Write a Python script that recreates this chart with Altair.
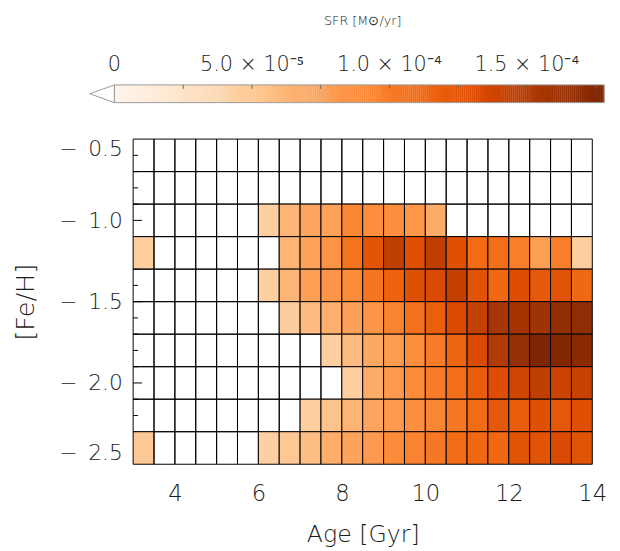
import altair as alt
import numpy as np
import pandas as pd

# ---------------- data ----------------
AGE_EDGES = [3.0, 3.5, 4.0, 4.5, 5.0, 5.5, 6.0, 6.5, 7.0, 7.5, 8.0, 8.5,
             9.0, 9.5, 10.0, 10.5, 11.0, 11.5, 12.0, 12.5, 13.0, 13.5, 14.0]
# [Fe/H] bin edges, from top row to bottom row
FEH_EDGES_TOP_DOWN = [-0.5, -0.7, -0.9, -1.1, -1.3, -1.5, -1.7, -1.9, -2.1, -2.3, -2.5]

# SFR in units of 1e-5 Msun/yr, one list per [Fe/H] row (top row first), 22 age bins each
SFR_FEH_m06 = [0] * 22
SFR_FEH_m08 = [0] * 22
SFR_FEH_m10 = [0, 0, 0, 0, 0, 0, 4.5, 6.2, 7.3, 7.5, 9.3, 8.8, 8.8, 8.3, 6.8,
               0, 0, 0, 0, 0, 0, 0]
SFR_FEH_m12 = [4.6, 0, 0, 0, 0, 0, 0, 6.3, 7.5, 8.5, 10.5, 12.5, 14.5, 12.8, 14.5,
               12.8, 11.0, 10.8, 9.8, 7.7, 9.8, 4.6]
SFR_FEH_m14 = [0, 0, 0, 0, 0, 0, 4.5, 6.2, 7.7, 8.4, 9.0, 10.3, 11.5, 12.8, 13.2,
               14.3, 12.6, 11.2, 13.0, 12.2, 12.6, 11.2]
SFR_FEH_m16 = [0, 0, 0, 0, 0, 0, 0, 4.7, 5.8, 6.6, 7.6, 8.4, 9.5, 10.6, 11.8,
               13.2, 14.3, 15.6, 15.7, 16.0, 16.8, 16.9]
SFR_FEH_m18 = [0, 0, 0, 0, 0, 0, 0, 0, 0, 4.6, 5.8, 7.0, 7.9, 8.8, 10.0,
               11.4, 13.2, 15.0, 16.6, 17.8, 17.6, 17.2]
SFR_FEH_m20 = [0, 0, 0, 0, 0, 0, 0, 0, 0, 0, 4.5, 6.8, 8.0, 9.0, 10.0,
               10.8, 12.0, 13.0, 13.8, 14.5, 14.0, 14.2]
SFR_FEH_m22 = [0, 0, 0, 0, 0, 0, 0, 0, 4.6, 5.3, 6.3, 7.3, 8.0, 8.7, 9.4,
               10.2, 11.0, 12.3, 12.0, 12.8, 12.3, 12.8]
SFR_FEH_m24 = [5.0, 0, 0, 0, 0, 0, 4.4, 5.0, 5.7, 6.7, 7.4, 8.0, 9.0, 9.5, 10.2,
               11.0, 11.2, 11.2, 12.6, 12.6, 13.2, 12.6]
SFR_ROWS = [SFR_FEH_m06, SFR_FEH_m08, SFR_FEH_m10, SFR_FEH_m12, SFR_FEH_m14,
            SFR_FEH_m16, SFR_FEH_m18, SFR_FEH_m20, SFR_FEH_m22, SFR_FEH_m24]
SFR_UNIT = 1e-5

VMAX = 1.78e-4                      # top of the colour bar
CMAP = ["#fff5eb", "#fee6ce", "#fdd0a2", "#fdae6b", "#fd8d3c",
        "#f16913", "#d94801", "#a63603", "#7f2704"]
CB_TICKS = [2.5e-5, 5.0e-5, 7.5e-5, 1.0e-4, 1.25e-4, 1.5e-4, 1.75e-4]
CB_LABEL_VALUES = [0.0, 5.0e-5, 1.0e-4, 1.5e-4]
CB_LABELS = ["0", "5.0 × 10⁻⁵", "1.0 × 10⁻⁴", "1.5 × 10⁻⁴"]

X_TICKS = [4, 6, 8, 10, 12, 14]
Y_TICKS = [-2.5, -2.0, -1.5, -1.0, -0.5]
Y_MAJOR_INNER = [-2.0, -1.5, -1.0]
Y_MINOR_INNER = [-2.4, -2.3, -2.2, -2.1, -1.9, -1.8, -1.7, -1.6, -1.4, -1.3,
                 -1.2, -1.1, -0.9, -0.8, -0.7, -0.6]

# ---------------- tables ----------------
rows = []
for r, vals in enumerate(SFR_ROWS):
    f_hi = FEH_EDGES_TOP_DOWN[r]
    f_lo = FEH_EDGES_TOP_DOWN[r + 1]
    for c, v in enumerate(vals):
        rows.append({"a0": AGE_EDGES[c], "a1": AGE_EDGES[c + 1],
                     "f0": f_lo, "f1": f_hi, "sfr": v * SFR_UNIT})
cells_df = pd.DataFrame(rows)

# ---------------- layout constants ----------------
W, H = 466, 330
CB_W_PX = 497          # colour-bar length in pixels
CB_SHIFT_PX = 19       # colour bar starts this far left of the plot
CB_H = 18
ARROW_PX = 25
TEXT = "#1c1c1c"
FONT = "DejaVu Sans"
WEIGHT = 200

k = VMAX / CB_W_PX
cb_domain = [CB_SHIFT_PX * k, (CB_SHIFT_PX + W) * k]

color_scale = alt.Scale(domain=list(np.linspace(0, VMAX, len(CMAP))),
                        range=CMAP, interpolate="rgb")

# ---------------- colour bar ----------------
edges = np.linspace(0, VMAX, 241)
grad_df = pd.DataFrame({"g0": edges[:-1], "g1": edges[1:] + VMAX / 2000,
                        "gm": (edges[:-1] + edges[1:]) / 2})
cbx = alt.Scale(domain=cb_domain, nice=False, zero=False)
cby = alt.Scale(domain=[0, 1], nice=False, zero=False)

grad = alt.Chart(grad_df).mark_rect(strokeWidth=0).encode(
    x=alt.X("g0:Q", scale=cbx, axis=None),
    x2="g1:Q",
    y=alt.Y("y0:Q", scale=cby, axis=None), y2="y1:Q",
    color=alt.Color("gm:Q", scale=color_scale, legend=None),
).transform_calculate(y0="0", y1="1")

outline = alt.Chart(pd.DataFrame({"lo": [0.0], "hi": [VMAX]})).mark_rect(
    fill="transparent", stroke="#9a9a9a", strokeWidth=1
).encode(
    x=alt.X("lo:Q", scale=cbx, axis=None), x2="hi:Q",
    y=alt.Y("y0:Q", scale=cby, axis=None), y2="y1:Q",
).transform_calculate(y0="0", y1="1")

arrow_df = pd.DataFrame({"x": [-ARROW_PX * k, 0.0, 0.0, -ARROW_PX * k],
                         "y": [0.5, 1.0, 0.0, 0.5], "i": [0, 1, 2, 3]})
arrow = alt.Chart(arrow_df).mark_line(color="#9a9a9a", strokeWidth=1).encode(
    x=alt.X("x:Q", scale=cbx, axis=None),
    y=alt.Y("y:Q", scale=cby, axis=None),
    order="i:O",
)

cb_ticks = alt.Chart(pd.DataFrame({"v": CB_TICKS})).mark_rule(
    color="#666666", strokeWidth=1
).encode(
    x=alt.X("v:Q", scale=cbx, axis=None),
    y=alt.value(0), y2=alt.value(4),
)

cb_labels = alt.Chart(pd.DataFrame({"v": CB_LABEL_VALUES, "t": CB_LABELS})).mark_text(
    fontSize=21, font=FONT, fontWeight=WEIGHT, color=TEXT, baseline="middle", align="center"
).encode(
    x=alt.X("v:Q", scale=cbx, axis=None),
    y=alt.value(-20),
    text="t:N",
)

colorbar = alt.layer(grad, outline, arrow, cb_ticks, cb_labels).properties(
    width=W, height=CB_H,
    title=alt.TitleParams("SFR [M⊙/yr]", fontSize=13, fontWeight=WEIGHT, font=FONT,
                          color=TEXT, anchor="middle", offset=27),
)

# ---------------- main heat map ----------------
xs = alt.Scale(domain=[3, 14], nice=False, zero=False)
ys = alt.Scale(domain=[-2.5, -0.5], nice=False, zero=False)

major_ticks = alt.Chart(pd.DataFrame({"v": Y_MAJOR_INNER})).mark_rule(
    color="black", strokeWidth=1
).encode(y=alt.Y("v:Q", scale=ys), x=alt.value(0), x2=alt.value(9))

minor_ticks = alt.Chart(pd.DataFrame({"v": Y_MINOR_INNER})).mark_rule(
    color="black", strokeWidth=1
).encode(y=alt.Y("v:Q", scale=ys), x=alt.value(0), x2=alt.value(5))

cells = alt.Chart(cells_df).mark_rect(stroke="black", strokeWidth=1).encode(
    x=alt.X("a0:Q", scale=xs,
            axis=alt.Axis(values=X_TICKS, format="d", title="Age [Gyr]",
                          labelFontSize=23, titleFontSize=24, labelPadding=19,
                          titlePadding=17, labelFlush=False, ticks=False,
                          domain=False, grid=False)),
    x2="a1:Q",
    y=alt.Y("f0:Q", scale=ys,
            axis=alt.Axis(values=Y_TICKS, title="[Fe/H]",
                          labelExpr="'\u2212\u2002' + format(-datum.value, '.1f')",
                          labelFontSize=22, titleFontSize=26, labelPadding=11,
                          titlePadding=21, labelFlush=True, ticks=False,
                          domain=False, grid=False)),
    y2="f1:Q",
    color=alt.condition("datum.sfr > 0",
                        alt.Color("sfr:Q", scale=color_scale, legend=None),
                        alt.value("transparent")),
)

main = alt.layer(minor_ticks, major_ticks, cells).properties(width=W, height=H)

chart = alt.vconcat(colorbar, main, spacing=37, bounds="flush").properties(
    padding={"left": 4, "top": 3, "right": 5, "bottom": 0}
).configure(
    background="white", font=FONT
).configure_view(
    stroke=None
).configure_axis(
    labelFont=FONT, titleFont=FONT, labelFontWeight=WEIGHT, titleFontWeight=WEIGHT,
    labelColor=TEXT, titleColor=TEXT
)

chart.save("out.html", embed_options={"renderer": "svg", "actions": False})
